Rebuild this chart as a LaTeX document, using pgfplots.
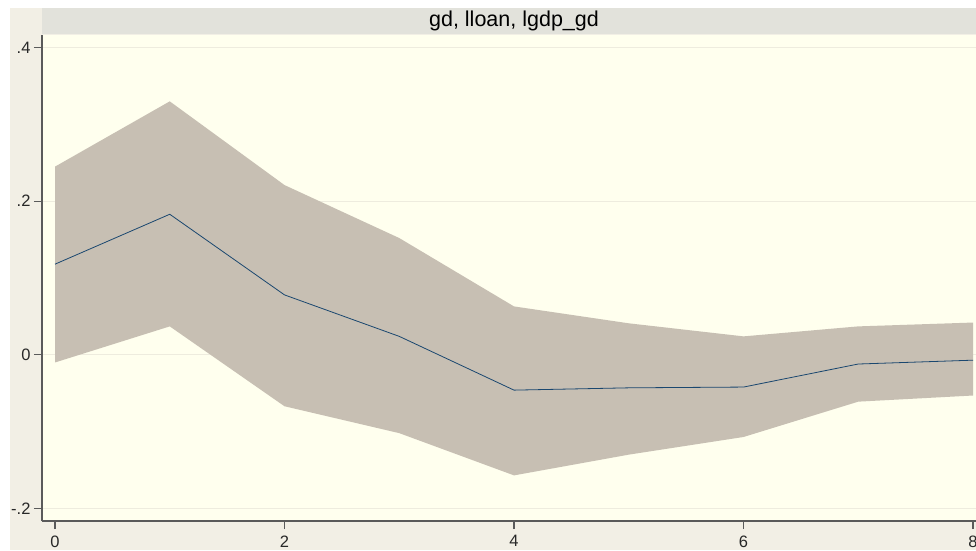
\documentclass[border=0pt]{standalone}
\usepackage{pgfplots}
\pgfplotsset{compat=1.18}
\usepackage{fontspec}
\setmainfont{Liberation Sans}
\definecolor{outerbg}{RGB}{242,239,229}
\definecolor{titlebg}{RGB}{226,226,219}
\definecolor{plotbg}{RGB}{255,255,238}
\definecolor{band}{RGB}{199,191,179}
\definecolor{irf}{RGB}{26,71,111}
\definecolor{gridc}{RGB}{238,236,222}
\definecolor{axisc}{RGB}{90,90,90}
\definecolor{labc}{RGB}{40,40,40}
\begin{document}
\begin{tikzpicture}[x=1pt,y=1pt]
\useasboundingbox (0,0) rectangle (976,550);
\clip (0,0) rectangle (976,550);
\fill[white] (0,0) rectangle (976,550);
\fill[outerbg] (10,0) rectangle (976,542);
\fill[titlebg] (42,516) rectangle (976,542);
\node[font=\fontsize{21.5}{23}\selectfont, text=black, inner sep=0pt] at (514,529) {gd, lloan, lgdp\_gd};
\begin{axis}[
  at={(42pt,29pt)}, anchor=south west,
  scale only axis, width=934pt, height=486pt,
  xmin=-0.1133, xmax=8.026, ymin=-0.2164, ymax=0.4164,
  axis x line*=bottom, axis y line*=left,
  axis line style={-, draw=axisc, line width=1.5pt},
  axis background/.style={fill=plotbg},
  xtick={0,2,4,6,8},
  ytick={-0.2,0,0.2,0.4},
  yticklabels={-.2,0,.2,.4},
  tick align=outside,
  major tick length=8pt,
  tick style={draw=axisc, line width=1.2pt},
  ticklabel style={font=\fontsize{16.5}{18}\selectfont, text=labc},
  xticklabel style={yshift=-3pt},
  /pgf/number format/assume math mode=true,
  ymajorgrids,
  major grid style={draw=gridc, line width=1pt},
]
\addplot[fill=band, draw=none] coordinates {
  (0,0.245) (1,0.330) (2,0.221) (3,0.152) (4,0.063) (5,0.041) (6,0.024) (7,0.037) (8,0.042)
  (8,-0.053) (7,-0.061) (6,-0.107) (5,-0.130) (4,-0.157) (3,-0.102) (2,-0.067) (1,0.037) (0,-0.010)
} -- cycle;
\addplot[draw=irf, line width=0.8pt] coordinates {
  (0,0.118) (1,0.183) (2,0.078) (3,0.024) (4,-0.046) (5,-0.043) (6,-0.042) (7,-0.012) (8,-0.007)
};
\end{axis}
\end{tikzpicture}
\end{document}
